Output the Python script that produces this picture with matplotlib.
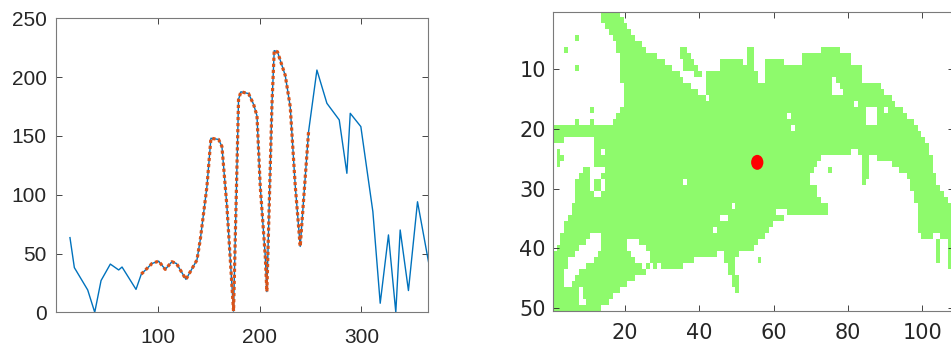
import numpy as np
import matplotlib
matplotlib.use("Agg")
import matplotlib.pyplot as plt
from matplotlib.colors import ListedColormap
from matplotlib.patches import Ellipse

# ---------------- left panel: daily series ----------------
day = [14.0, 18.3, 31.4, 38.3, 44.5, 53.6, 61.8, 65.1, 78.8, 84.0,
       94.5, 101.0, 107.5, 114.0, 118.5, 127.8, 138.6, 141.9, 148.4, 152.3,
       159.8, 163.1, 168.0, 174.5, 179.4, 181.7, 189.2, 194.1, 197.5, 200.7,
       205.6, 207.2, 212.2, 214.4, 217.6, 225.2, 230.1, 235.0, 239.9, 248.1,
       256.3, 266.1, 278.2, 285.7, 289.0, 299.4, 311.2, 318.4, 326.5, 333.7,
       338.0, 346.1, 355.0, 366.0]
level = [63.5, 38.0, 19.0, 0.0, 27.0, 41.0, 36.0, 38.5, 19.5, 32.5,
         41.5, 43.5, 36.5, 43.0, 41.5, 28.0, 44.5, 62.0, 107.0, 148.0,
         147.0, 141.0, 90.0, 1.0, 181.0, 187.5, 186.0, 177.0, 167.0, 107.0,
         48.0, 17.6, 177.0, 222.5, 221.5, 201.5, 175.0, 108.0, 56.0, 153.6,
         206.0, 177.7, 163.6, 118.2, 169.2, 157.9, 85.6, 7.7, 65.8, 0.0,
         70.0, 18.5, 94.0, 42.0]
segment_start = 84.0
segment_end = 248.1

# ---------------- right panel: binary region map ----------------
N_ROWS = 50
N_COLS = 108
MASK_ROWS = [
    "14-18",
    "14-19",
    "15-20",
    "16-21",
    "7 17-22",
    "18-24",
    "4 18-25 35-36 53-54 73-77",
    "19-28 35-37 53-54 68-80",
    "19-30 36-38 46-51 53-54 58-62 68-80",
    "7 19-32 36-39 46-54 58-83",
    "19-34 39-40 42-55 58-83",
    "19-35 42-55 58-75 77-83",
    "20-37 42-75 78-88",
    "20-39 42-75 79-89",
    "20-41 43-91",
    "20-81 83-92",
    "11 19-84 88-89 91-94",
    "18-63 65-84 88-95",
    "7 11 17-84 88-97",
    "1-64 66-98",
    "1-99",
    "1-3 12-100",
    "12-101",
    "2 12-13 15-80 83-101",
    "2-3 12-72 84-85 88-102",
    "2 12-71 84-85 92-102",
    "9-10 15-70 75 84-85 94-102",
    "8-10 14-69 84-85 96-103",
    "7-10 12-13 15-35 37-69 84 97-103",
    "7-10 12-13 15-71 97-104",
    "7-11 14-71 98-105",
    "7-72 98-106",
    "6-48 50-74 99-107",
    "6-60 64-74 99-108",
    "5-45 48-62 99-108",
    "4-59 99-108",
    "4-43 45-58 99-108",
    "3-10 14-57 100-102 105-108",
    "3-9 14-20 24-55 104 107-108",
    "2-7 14-20 26-54 104 107",
    "1-6 13-21 27-44 47-50 104 107",
    "1-4 12-22 27-38 47-49 56 104 107",
    "1-4 10-24 26 28 30-35 48-49 107",
    "1-3 8-25 48-49",
    "1-3 7-22 49-50",
    "1-3 6-20 49-50",
    "1-7 9-18 50",
    "1-7 9-16",
    "1-7 10-15",
    "1-13",
]
center_col, center_row = 55.6, 25.6


def build_mask(rows, n_cols):
    grid = np.zeros((len(rows), n_cols), dtype=int)
    for r, spec in enumerate(rows):
        for part in spec.split():
            if "-" in part:
                a, b = part.split("-")
            else:
                a = b = part
            grid[r, int(a) - 1:int(b)] = 1
    return grid


mask = build_mask(MASK_ROWS, N_COLS)

# ---------------- figure ----------------
W, H = 951, 345
fig = plt.figure(figsize=(W / 100, H / 100), dpi=100)

axis_grey = "#7a7a7a"
label_grey = "#262626"


def style_axes(ax, family, pad_x, pad_y):
    for s in ax.spines.values():
        s.set_color(axis_grey)
        s.set_linewidth(0.8)
    ax.tick_params(direction="in", top=True, right=True, length=4, width=0.6,
                   color=label_grey, labelsize=15, labelcolor=label_grey)
    ax.tick_params(axis="x", pad=pad_x)
    ax.tick_params(axis="y", pad=pad_y)
    for lab in ax.get_xticklabels() + ax.get_yticklabels():
        lab.set_family(family)


ax1 = fig.add_axes([55.7 / W, (H - 312.3) / H, 372.0 / W, 294.0 / H])
ax1.plot(day, level, color="#0072BD", lw=1.0)
seg_x = [d for d in day if segment_start <= d <= segment_end]
seg_y = [v for d, v in zip(day, level) if segment_start <= d <= segment_end]
ax1.plot(seg_x, seg_y, color="#D95319", lw=2.3, ls=(0, (1, 0.9)))
ax1.set_xlim(0, 365)
ax1.set_ylim(0, 250)
ax1.set_xticks([100, 200, 300])
ax1.set_yticks([0, 50, 100, 150, 200, 250])
style_axes(ax1, "Liberation Sans", 11, 6.5)

ax2 = fig.add_axes([552.5 / W, (H - 311.3) / H, N_COLS * 3.716 / W, 299.1 / H])
ax2.imshow(mask, cmap=ListedColormap(["white", "#8EFA6C"]), vmin=0, vmax=1,
           aspect="auto", interpolation="nearest",
           extent=(0.5, N_COLS + 0.5, N_ROWS + 0.5, 0.5))
ax2.add_patch(Ellipse((center_col, center_row), 3.3, 2.5, color="red", lw=0))
ax2.set_xlim(0.5, N_COLS + 0.5)
ax2.set_ylim(N_ROWS + 0.5, 0.5)
ax2.set_xticks([20, 40, 60, 80, 100])
ax2.set_yticks([10, 20, 30, 40, 50])
style_axes(ax2, "DejaVu Sans", 8.5, 4.8)

fig.savefig("out.png", dpi=100)
